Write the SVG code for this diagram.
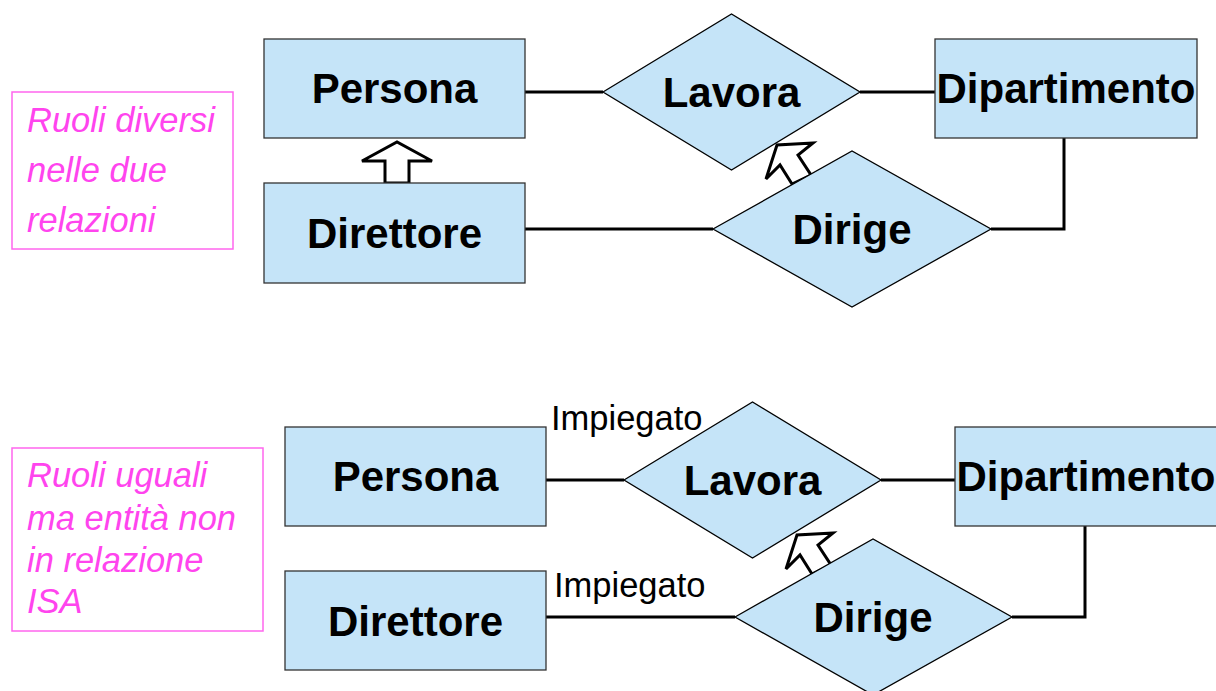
<svg xmlns="http://www.w3.org/2000/svg" width="1216" height="691" viewBox="0 0 1216 691">
<style>
.ent{fill:#c5e4f8;stroke:#333;stroke-width:1.3}
.rel{fill:#c5e4f8;stroke:#000;stroke-width:1.3}
.lbl{font-family:"Liberation Sans",Arial,sans-serif;font-weight:bold;font-size:42px;fill:#000;text-anchor:middle}
.role{font-family:"Liberation Sans",Arial,sans-serif;font-size:34.5px;fill:#000}
.note{font-family:"Liberation Sans",Arial,sans-serif;font-style:italic;font-size:34.5px;fill:#ff44ee}
.nbox{fill:none;stroke:#ff66ee;stroke-width:1.5}
.con{fill:none;stroke:#000;stroke-width:3}
.isa{fill:#fff;stroke:#000;stroke-width:3;stroke-linejoin:miter}
</style>
<rect width="1216" height="691" fill="#fff"/>
<g id="connectors">
<path class="con" d="M525 92H603M860 92H935M525 229H713M1064 138V229H991"/>
<path class="con" d="M546 480H624M881 480H955M546 617H735M1085 526V617H1012"/>
<polygon class="isa" points="385,183 385,161 362,161 397,142 432,161 409,161 409,183"/>
<polygon class="isa" points="792,184 780,165 766,179 777,145 813,143 798,155 811,175"/>
<polygon class="isa" points="812,574 800,555 786,569 797,535 833,533 818,545 831,565"/>
</g>
<g id="note1">
<rect class="nbox" x="12" y="92" width="221" height="157"/>
<text class="note" x="27" y="132">Ruoli diversi</text>
<text class="note" x="27" y="182">nelle due</text>
<text class="note" x="27" y="232">relazioni</text>
</g>
<g id="persona1"><rect class="ent" x="264" y="39" width="261" height="99"/><text class="lbl" x="394.5" y="103">Persona</text></g>
<g id="lavora1"><polygon class="rel" points="603,92 731.5,14 860,92 731.5,170"/><text class="lbl" x="731.5" y="107">Lavora</text></g>
<g id="dipartimento1"><rect class="ent" x="935" y="39" width="262" height="99"/><text class="lbl" x="1066" y="103">Dipartimento</text></g>
<g id="direttore1"><rect class="ent" x="264" y="183" width="261" height="100"/><text class="lbl" x="394.5" y="248">Direttore</text></g>
<g id="dirige1"><polygon class="rel" points="713,229 852,151 991,229 852,307"/><text class="lbl" x="852" y="244">Dirige</text></g>
<g id="note2">
<rect class="nbox" x="12" y="448" width="251" height="183"/>
<text class="note" x="27" y="487">Ruoli uguali</text>
<text class="note" x="27" y="530">ma entità non</text>
<text class="note" x="27" y="572">in relazione</text>
<text class="note" x="27" y="613">ISA</text>
</g>
<g id="persona2"><rect class="ent" x="285" y="427" width="261" height="99"/><text class="lbl" x="415.5" y="491">Persona</text></g>
<g id="lavora2"><polygon class="rel" points="624,480 752.5,402 881,480 752.5,558"/><text class="lbl" x="752.5" y="495">Lavora</text></g>
<g id="dipartimento2"><rect class="ent" x="955" y="427" width="263" height="99"/><text class="lbl" x="1086" y="491">Dipartimento</text></g>
<g id="direttore2"><rect class="ent" x="285" y="571" width="261" height="99"/><text class="lbl" x="415.5" y="636">Direttore</text></g>
<g id="dirige2"><polygon class="rel" points="735,617 873,539 1012,617 873,695"/><text class="lbl" x="873" y="632">Dirige</text></g>
<text class="role" x="551" y="430">Impiegato</text>
<text class="role" x="554" y="597">Impiegato</text>
</svg>
